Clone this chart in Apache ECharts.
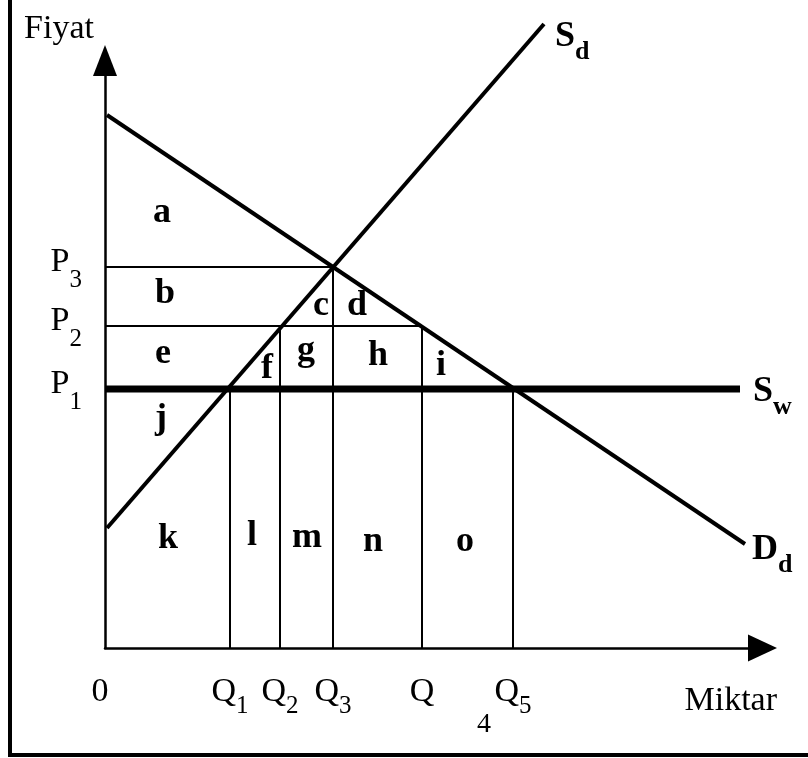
<!DOCTYPE html>
<html>
<head>
<meta charset="utf-8">
<title>Fiyat - Miktar</title>
<script src="https://cdn.jsdelivr.net/npm/echarts@6.0.0/dist/echarts.min.js"></script>
<style>
    html, body { margin: 0; padding: 0; background: #fff; }
    #chart { width: 808px; height: 758px; }
</style>
</head>
<body>
<div id="chart"></div>
<script>
// miktar (Q) ve fiyat (P) seviyeleri
const qValues = [12.5, 17.5, 22.8, 31.7, 40.8]
const qSubs = ['1', '2', '3', '', '5']
const pValues = [25.9, 32.2, 38.1]
const pSubs = ['1', '2', '3']

// eğriler: yurtiçi talep (Dd), yurtiçi arz (Sd), dünya arzı (Sw, P1 seviyesinde)
const demandLine = [[0.2, 53.3], [64.0, 10.4]]
const supplyLine = [[0.2, 12.0], [43.9, 62.4]]
const worldSupplyEnd = 63.5

// bölge harfleri [x, y, harf]
const regionLabels = [
    [5.7, 43.5, 'a'],
    [6.0, 35.4, 'b'],
    [21.6, 34.2, 'c'],
    [25.2, 34.2, 'd'],
    [5.8, 29.4, 'e'],
    [16.2, 27.9, 'f'],
    [20.1, 29.7, 'g'],
    [27.3, 29.2, 'h'],
    [33.6, 28.2, 'i'],
    [5.6, 22.9, 'j'],
    [6.3, 10.9, 'k'],
    [14.7, 11.2, 'l'],
    [20.2, 11.0, 'm'],
    [26.8, 10.6, 'n'],
    [36.0, 10.6, 'o']
]

const serif = '"Liberation Serif", "Times New Roman", serif'
const black = '#000'

// kılavuz çizgileri: P seviyelerinden yatay, Q seviyelerinden dikey
const qTops = [pValues[0], pValues[1], pValues[2], pValues[1], pValues[0]]
const guides = [
    [[0, pValues[2]], [qValues[2], pValues[2]]],
    [[0, pValues[1]], [qValues[3], pValues[1]]]
].concat(qValues.map((q, i) => [[q, 0], [q, qTops[i]]]))

function lineSeries(data, width, extra) {
    return Object.assign({
        type: 'line',
        data: data,
        symbol: 'none',
        clip: false,
        silent: true,
        lineStyle: { color: black, width: width, cap: 'butt' },
        itemStyle: { color: black }
    }, extra || {})
}

const curveRich = {
    m: { fontFamily: serif, fontWeight: 'bold', fontSize: 36, lineHeight: 36, color: black, verticalAlign: 'top' },
    s: { fontFamily: serif, fontWeight: 'bold', fontSize: 26, lineHeight: 26, color: black, verticalAlign: 'top', padding: [20, 0, 0, 0] }
}

function curveLabel(main, sub, distance, dy) {
    return {
        show: true,
        distance: distance,
        offset: [0, dy],
        formatter: '{m|' + main + '}{s|' + sub + '}',
        rich: curveRich
    }
}

function findIndex(arr, value) {
    return arr.findIndex(v => Math.abs(v - value) < 1e-6)
}

const option = {
    animation: false,
    backgroundColor: '#fff',
    grid: {
        left: 105,
        right: 45.5,
        top: 60.5,
        bottom: 110,
        containLabel: false,
        outerBoundsMode: 'none'
    },
    xAxis: {
        type: 'value',
        min: 0,
        max: 65.75,
        splitLine: { show: false },
        axisTick: { show: false },
        axisLine: {
            symbol: ['none', 'triangle'],
            symbolSize: [27, 29],
            lineStyle: { color: black, width: 2.5 }
        },
        axisLabel: {
            customValues: [0].concat(qValues),
            margin: 27,
            formatter: function (value) {
                if (value === 0) return '{z|0}'
                const i = findIndex(qValues, value)
                return '{q|Q}' + (qSubs[i] ? '{s|' + qSubs[i] + '}' : '')
            },
            rich: {
                z: { fontFamily: serif, fontSize: 34, lineHeight: 34, color: black, verticalAlign: 'top', padding: [0, 10, 0, 0] },
                q: { fontFamily: serif, fontSize: 34, lineHeight: 34, color: black, verticalAlign: 'top' },
                s: { fontFamily: serif, fontSize: 25, lineHeight: 25, color: black, verticalAlign: 'top', padding: [19, 0, 0, 0] }
            }
        },
        name: 'Miktar',
        nameLocation: 'end',
        nameGap: 14.5,
        nameMoveOverlap: false,
        nameTextStyle: {
            fontFamily: serif,
            fontSize: 34,
            color: black,
            align: 'right',
            verticalAlign: 'top',
            padding: [36, 0, 0, 0]
        }
    },
    yAxis: {
        type: 'value',
        min: 0,
        max: 58.75,
        splitLine: { show: false },
        axisTick: { show: false },
        axisLine: {
            symbol: ['none', 'triangle'],
            symbolSize: [24, 31],
            lineStyle: { color: black, width: 2.5 }
        },
        axisLabel: {
            customValues: pValues,
            margin: 23,
            formatter: function (value) {
                const i = findIndex(pValues, value)
                return '{p|P}{s|' + pSubs[i] + '}'
            },
            rich: {
                p: { fontFamily: serif, fontSize: 34, lineHeight: 44, color: black, verticalAlign: 'top' },
                s: { fontFamily: serif, fontSize: 25, lineHeight: 25, color: black, verticalAlign: 'top', padding: [23, 0, 0, 0] }
            }
        },
        name: 'Fiyat',
        nameLocation: 'end',
        nameGap: 31.5,
        nameMoveOverlap: false,
        nameTextStyle: {
            fontFamily: serif,
            fontSize: 34,
            color: black,
            align: 'right',
            verticalAlign: 'middle',
            padding: [0, 11, 0, 0]
        }
    },
    graphic: [
        {
            // çerçeve (sol ve alt kenar)
            type: 'polyline',
            shape: { points: [[10, 0], [10, 755], [808, 755]] },
            style: { stroke: black, lineWidth: 4, fill: null }
        },
        {
            // Q4 etiketinin kaymış alt indisi
            type: 'text',
            x: 484,
            y: 725,
            style: { text: '4', fontFamily: serif, fontSize: 28, fill: black, align: 'center', verticalAlign: 'middle' }
        }
    ],
    series: guides.map(g => lineSeries(g, 2)).concat([
        lineSeries([[0, pValues[0]], [worldSupplyEnd, pValues[0]]], 7, {
            endLabel: curveLabel('S', 'w', 13, 3)
        }),
        lineSeries(demandLine, 4, {
            endLabel: curveLabel('D', 'd', 7, 6)
        }),
        lineSeries(supplyLine, 4, {
            endLabel: curveLabel('S', 'd', 11, 13)
        }),
        {
            type: 'scatter',
            data: regionLabels,
            symbolSize: 0,
            silent: true,
            itemStyle: { color: black, opacity: 1 },
            label: {
                show: true,
                position: 'inside',
                formatter: p => p.value[2],
                fontFamily: serif,
                fontWeight: 'bold',
                fontSize: 36,
                color: black,
                opacity: 1,
                textBorderWidth: 0
            }
        }
    ])
}

const chart = echarts.init(document.getElementById('chart'))
chart.setOption(option)
window.addEventListener('resize', () => chart.resize())
</script>
</body>
</html>
